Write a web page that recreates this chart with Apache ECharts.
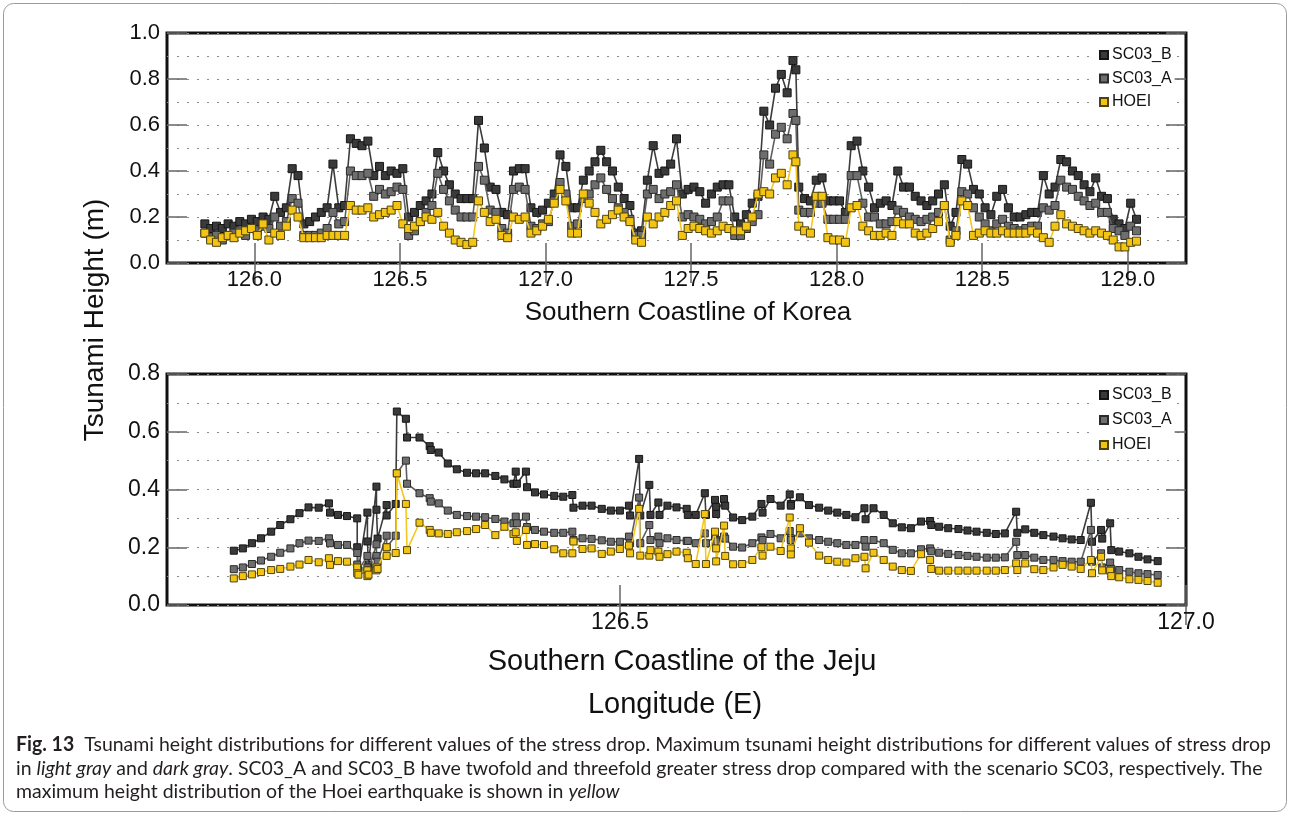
<!DOCTYPE html>
<html>
<head>
<meta charset="utf-8">
<script src="https://cdn.jsdelivr.net/npm/echarts@6/dist/echarts.min.js"></script>
<style>
  html, body { margin: 0; padding: 0; background: #fff; }
  #chart { width: 1290px; height: 816px; }
</style>
</head>
<body>
<div id="chart"></div>
<script>
// Southern coastline of Korea: station longitude (deg E) and maximum tsunami height (m)
const korLon = [125.83,125.85,125.87,125.89,125.91,125.93,125.95,125.97,125.99,126.01,
  126.03,126.05,126.07,126.09,126.11,126.13,126.15,126.17,126.19,126.21,
  126.23,126.25,126.27,126.29,126.31,126.33,126.35,126.37,126.39,126.41,
  126.43,126.45,126.47,126.49,126.51,126.53,126.55,126.57,126.59,126.61,
  126.63,126.65,126.67,126.69,126.71,126.73,126.75,126.77,126.79,126.81,
  126.83,126.85,126.87,126.89,126.91,126.93,126.95,126.97,126.99,127.01,
  127.03,127.05,127.07,127.09,127.11,127.13,127.15,127.17,127.19,127.21,
  127.23,127.25,127.27,127.29,127.31,127.33,127.35,127.37,127.39,127.41,
  127.43,127.45,127.47,127.49,127.51,127.53,127.55,127.57,127.59,127.61,
  127.63,127.65,127.67,127.69,127.71,127.73,127.75,127.77,127.79,127.81,
  127.83,127.85,127.86,
  127.87,127.89,127.91,127.93,127.95,127.97,127.99,128.01,128.03,128.05,
  128.07,128.09,128.11,128.13,128.15,128.17,128.19,128.21,128.23,128.25,
  128.27,128.29,128.31,128.33,128.35,128.37,128.39,128.41,128.43,128.45,
  128.47,128.49,128.51,128.53,128.55,128.57,128.59,128.61,128.63,128.65,
  128.67,128.69,128.71,128.73,128.75,128.77,128.79,128.81,128.83,128.85,
  128.87,128.89,128.91,128.93,128.95,128.97,128.99,129.01,129.03];

const korSC03B = [.17,.15,.16,.15,.17,.16,.18,.17,.19,.18,
  .20,.19,.29,.22,.24,.41,.38,.17,.18,.20,
  .22,.24,.43,.24,.25,.54,.52,.51,.53,.38,
  .42,.38,.40,.39,.41,.20,.22,.25,.27,.30,
  .48,.40,.34,.30,.28,.28,.28,.62,.50,.33,
  .32,.22,.21,.40,.41,.41,.24,.22,.23,.26,
  .30,.47,.42,.24,.24,.36,.40,.44,.49,.44,
  .40,.33,.28,.25,.13,.14,.36,.51,.39,.40,
  .43,.54,.30,.32,.33,.31,.26,.30,.33,.34,
  .34,.20,.17,.21,.26,.29,.66,.60,.76,.82,
  .74,.88,.84,
  .33,.28,.27,.36,.37,.27,.27,.27,.22,.51,
  .53,.40,.33,.24,.26,.27,.25,.40,.33,.33,
  .29,.27,.25,.27,.30,.34,.16,.22,.45,.43,
  .32,.30,.24,.21,.29,.32,.24,.20,.20,.21,
  .22,.22,.38,.30,.33,.45,.44,.40,.38,.34,
  .31,.37,.29,.28,.19,.17,.15,.26,.19];

const korSC03A = [.13,.11,.12,.10,.12,.13,.14,.12,.15,.14,
  .16,.15,.20,.16,.18,.28,.26,.12,.12,.12,
  .13,.15,.22,.17,.18,.40,.38,.38,.39,.29,
  .32,.30,.31,.33,.32,.12,.14,.18,.22,.25,
  .39,.32,.27,.23,.20,.20,.20,.42,.36,.23,
  .22,.15,.13,.32,.33,.32,.16,.15,.17,.18,
  .27,.35,.30,.16,.17,.28,.30,.34,.37,.32,
  .28,.24,.22,.19,.12,.12,.30,.32,.28,.30,
  .31,.34,.20,.21,.20,.19,.17,.18,.20,.27,
  .27,.12,.12,.15,.18,.21,.47,.43,.56,.59,
  .54,.65,.62,
  .23,.22,.22,.26,.26,.19,.19,.19,.19,.38,
  .38,.26,.20,.20,.17,.17,.18,.23,.22,.20,
  .19,.18,.19,.20,.22,.25,.10,.14,.31,.30,
  .24,.20,.17,.14,.17,.19,.16,.15,.14,.15,
  .16,.16,.24,.23,.25,.36,.33,.32,.29,.27,
  .25,.26,.22,.22,.15,.14,.12,.16,.14];

const korHOEI = [.13,.10,.09,.11,.12,.11,.13,.14,.15,.12,
  .17,.10,.13,.12,.16,.23,.20,.11,.11,.11,
  .11,.12,.12,.12,.12,.25,.23,.23,.24,.20,
  .21,.22,.23,.25,.17,.15,.16,.18,.20,.19,
  .22,.16,.13,.10,.09,.08,.09,.27,.22,.18,
  .19,.12,.11,.20,.19,.20,.13,.14,.16,.19,
  .26,.32,.27,.13,.13,.30,.26,.22,.17,.19,
  .21,.23,.20,.18,.10,.09,.20,.17,.20,.22,
  .25,.27,.12,.15,.16,.15,.14,.13,.14,.16,
  .15,.14,.14,.16,.20,.30,.31,.30,.37,.39,
  .34,.47,.44,
  .16,.14,.13,.29,.29,.11,.10,.10,.09,.24,
  .25,.16,.14,.12,.12,.13,.12,.18,.17,.17,
  .13,.12,.13,.15,.18,.25,.09,.12,.27,.25,
  .12,.13,.14,.13,.13,.14,.13,.13,.13,.13,
  .14,.13,.11,.09,.16,.21,.17,.16,.15,.14,
  .13,.14,.13,.12,.10,.07,.07,.09,.095];

// Southern coastline of Jeju island
const jejuLon = [126.159,126.167,126.175,126.183,126.192,126.200,126.209,126.217,126.225,126.234,
  126.243,126.244,126.251,126.259,126.268,126.268,126.269,126.277,126.277,126.278,
  126.285,126.285,126.286,126.294,126.294,126.302,126.303,126.311,126.312,126.323,
  126.332,126.333,126.340,126.348,126.356,126.365,126.373,126.381,126.390,126.398,
  126.406,126.408,126.409,126.417,126.418,126.425,126.433,126.442,126.450,126.458,
  126.459,126.467,126.475,126.484,126.492,126.500,126.508,126.509,126.517,126.518,
  126.526,126.527,126.534,126.535,126.542,126.550,126.559,126.560,126.567,126.575,
  126.576,126.584,126.585,126.585,126.592,126.593,126.600,126.608,126.617,126.625,
  126.626,126.633,126.642,126.650,126.651,126.651,126.659,126.667,126.676,126.684,
  126.692,126.700,126.708,126.716,126.717,126.724,126.733,126.741,126.749,126.757,
  126.766,126.774,126.775,126.782,126.790,126.799,126.807,126.815,126.824,126.832,
  126.840,126.850,126.851,126.858,126.866,126.874,126.883,126.891,126.899,126.907,
  126.916,126.917,126.925,126.926,126.933,126.934,126.941,126.950,126.958,126.966,126.975];

const jejuSC03B = [.188,.196,.214,.231,.254,.277,.297,.318,.338,.337,
  .352,.320,.312,.308,.300,.200,.120,.320,.220,.140,
  .410,.330,.230,.346,.310,.350,.670,.645,.580,.580,
  .550,.537,.528,.490,.470,.458,.456,.456,.447,.435,
  .420,.462,.420,.462,.408,.390,.383,.378,.375,.381,
  .337,.344,.344,.333,.327,.327,.344,.310,.506,.310,
  .416,.312,.355,.312,.344,.338,.333,.312,.312,.387,
  .312,.364,.340,.315,.367,.344,.303,.294,.306,.350,
  .320,.367,.344,.383,.350,.344,.373,.346,.337,.327,
  .320,.312,.304,.335,.297,.335,.312,.283,.269,.266,
  .289,.291,.277,.271,.266,.263,.258,.254,.250,.246,
  .248,.323,.250,.262,.250,.242,.237,.231,.227,.225,
  .354,.219,.260,.230,.283,.190,.185,.179,.167,.158,.152];

const jejuSC03A = [.124,.130,.142,.154,.167,.181,.196,.214,.223,.222,
  .231,.214,.208,.208,.180,.140,.120,.170,.130,.120,
  .210,.170,.150,.240,.200,.240,.456,.500,.420,.387,
  .370,.358,.352,.327,.312,.308,.306,.304,.298,.289,
  .283,.306,.283,.306,.270,.260,.254,.250,.250,.254,
  .225,.231,.229,.224,.219,.219,.237,.214,.372,.214,
  .277,.225,.237,.214,.231,.225,.222,.222,.214,.248,
  .214,.237,.225,.220,.237,.230,.202,.199,.214,.234,
  .225,.246,.231,.256,.231,.225,.248,.231,.225,.219,
  .214,.208,.208,.225,.202,.225,.214,.191,.179,.179,
  .193,.196,.186,.181,.177,.173,.170,.167,.164,.164,
  .165,.219,.173,.173,.164,.156,.156,.152,.150,.150,
  .260,.150,.179,.130,.147,.125,.121,.115,.110,.107,.104];

const jejuHOEI = [.092,.100,.106,.114,.121,.125,.133,.140,.156,.148,
  .162,.139,.152,.150,.130,.110,.105,.120,.100,.105,
  .130,.120,.125,.200,.170,.180,.456,.350,.190,.285,
  .260,.250,.248,.246,.252,.256,.263,.277,.242,.271,
  .246,.252,.222,.260,.208,.211,.208,.193,.179,.179,
  .220,.194,.196,.177,.185,.194,.206,.179,.333,.171,
  .171,.190,.185,.167,.176,.185,.181,.162,.142,.315,
  .142,.254,.196,.151,.275,.170,.141,.142,.156,.200,
  .171,.202,.187,.303,.196,.175,.266,.216,.171,.156,
  .150,.147,.162,.167,.127,.181,.156,.133,.121,.118,
  .176,.156,.125,.119,.119,.119,.119,.119,.119,.119,
  .121,.144,.121,.144,.124,.121,.130,.139,.133,.125,
  .156,.110,.167,.120,.119,.100,.096,.089,.087,.083,.077];

// Axis tick values
const korTicks = [126.0, 126.5, 127.0, 127.5, 128.0, 128.5, 129.0];
const jejuTicks = [126.5, 127.0];

const seriesNames = ['SC03_B', 'SC03_A', 'HOEI'];

// Marker fill, marker edge and connecting line colour of each scenario
const look = {
  SC03_B: { fill: '#3a3a3a', edge: '#151515', line: '#3c3c3c' },
  SC03_A: { fill: '#6e6e6e', edge: '#2a2a2a', line: '#5e5e5e' },
  HOEI:   { fill: '#f3c414', edge: '#4f4310', line: '#f5c71d' }
};

const FONT = 'Liberation Sans, Arial, Helvetica, sans-serif';
const dotted = { type: [2, 8], color: '#8c8c8c', width: 1.2 };
const tickStyle = { color: '#666', width: 1.5 };
const fmt = v => Number(v).toFixed(1);

const pairs = (lon, vals) => lon.map((x, i) => [x, vals[i]]);

const panels = [
  { lon: korLon, vals: [korSC03B, korSC03A, korHOEI], mark: 8 },
  { lon: jejuLon, vals: [jejuSC03B, jejuSC03A, jejuHOEI], mark: 7 }
];

const series = [];
panels.forEach((p, pi) => {
  seriesNames.forEach((name, si) => {
    const c = look[name];
    series.push({
      name: name,
      type: 'line',
      xAxisIndex: pi * 2,
      yAxisIndex: pi * 2,
      data: pairs(p.lon, p.vals[si]),
      symbol: 'rect',
      symbolSize: p.mark,
      showSymbol: true,
      lineStyle: { color: c.line, width: 1.6 },
      itemStyle: { color: c.fill, borderColor: c.edge, borderWidth: 1 },
      emphasis: { disabled: true },
      z: 3 + si
    });
  });
});

function xAxes(grid, min, max, ticks, fontSize) {
  const common = {
    gridIndex: grid, type: 'value', min: min, max: max,
    axisLine: { show: false },
    splitLine: { show: false },
    axisTick: { show: true, inside: true, length: 20, customValues: ticks, lineStyle: tickStyle }
  };
  return [
    Object.assign({}, common, {
      position: 'bottom',
      axisLabel: { customValues: ticks, formatter: fmt, fontSize: fontSize, margin: 6,
                   color: '#111', fontFamily: FONT }
    }),
    Object.assign({}, common, { position: 'top', axisLabel: { show: false } })
  ];
}

function yAxes(grid, max, fontSize) {
  const common = {
    gridIndex: grid, type: 'value', min: 0, max: max, interval: 0.2,
    axisLine: { show: false },
    axisTick: { show: true, inside: true, length: 20, lineStyle: tickStyle }
  };
  return [
    Object.assign({}, common, {
      position: 'left',
      axisLabel: { formatter: fmt, fontSize: fontSize, margin: 7, color: '#111', fontFamily: FONT },
      splitLine: { show: true, lineStyle: dotted },
      minorTick: { show: false, splitNumber: 2 },
      minorSplitLine: { show: true, lineStyle: dotted }
    }),
    Object.assign({}, common, {
      position: 'right', axisLabel: { show: false }, splitLine: { show: false }
    })
  ];
}

function legend(top, gap) {
  return {
    data: seriesNames,
    orient: 'vertical',
    left: 1096, top: top,
    icon: 'rect', itemWidth: 8, itemHeight: 8, itemGap: gap,
    padding: [2, 3, 2, 3],
    backgroundColor: '#fff',
    selectedMode: false,
    textStyle: { fontSize: 16, fontFamily: FONT, color: '#111', padding: [0, 0, 0, -1] }
  };
}

// Caption: measure the first line so the three lines share one width
const CAP_FONT = 'Lato, "Open Sans", sans-serif';
const CAP_SIZE = 20;
const capLine1a = 'Fig. 13';
const capLine1b = '  Tsunami height distributions for different values of the stress drop. Maximum tsunami height distributions for different values of stress drop';
const mctx = document.createElement('canvas').getContext('2d');
mctx.font = 'bold ' + CAP_SIZE + 'px ' + CAP_FONT;
let capW = mctx.measureText(capLine1a).width;
mctx.font = CAP_SIZE + 'px ' + CAP_FONT;
capW += mctx.measureText(capLine1b).width;
const capScale = 1255 / capW;

const capRich = {
  b: { fontFamily: CAP_FONT, fontSize: CAP_SIZE, fontWeight: 'bold', fill: '#231f20' },
  r: { fontFamily: CAP_FONT, fontSize: CAP_SIZE, fill: '#231f20' },
  i: { fontFamily: CAP_FONT, fontSize: CAP_SIZE, fontStyle: 'italic', fill: '#231f20' }
};
function capText(y, text) {
  return {
    type: 'text', x: 16, y: y, scaleX: capScale,
    style: { text: text, rich: capRich, verticalAlign: 'middle', align: 'left' }
  };
}
function label(x, y, text, size, rotation) {
  return {
    type: 'text', x: x, y: y, rotation: rotation || 0,
    style: { text: text, fontFamily: FONT, fontSize: size, fill: '#111',
             align: 'center', verticalAlign: 'middle' }
  };
}

const option = {
  animation: false,
  backgroundColor: '#fff',
  grid: [
    { left: 167, top: 33, width: 1019, height: 230, show: true,
      borderColor: '#111', borderWidth: 3, backgroundColor: 'transparent' },
    { left: 167, top: 374, width: 1019, height: 231, show: true,
      borderColor: '#111', borderWidth: 3, backgroundColor: 'transparent' }
  ],
  xAxis: [].concat(
    xAxes(0, 125.7, 129.2, korTicks, 22),
    xAxes(1, 126.1, 127.0, jejuTicks, 23)
  ),
  yAxis: [].concat(
    yAxes(0, 1.0, 22),
    yAxes(1, 0.8, 23)
  ),
  legend: [legend(45, 7.5), legend(385, 9)],
  series: series,
  graphic: [
    { type: 'rect', shape: { x: 3.5, y: 3.5, width: 1283, height: 808, r: 10 },
      style: { fill: 'none', stroke: '#9a9a9a', lineWidth: 1 } },
    label(688, 313, 'Southern Coastline of Korea', 26),
    label(682, 662, 'Southern Coastline of the Jeju', 29),
    label(675, 705, 'Longitude (E)', 29),
    label(95, 320, 'Tsunami Height (m)', 28, Math.PI / 2),
    capText(745, '{b|' + capLine1a + '}{r|' + capLine1b + '}'),
    capText(768.5, '{r|in }{i|light gray}{r| and }{i|dark gray}{r|. SC03_A and SC03_B have twofold and threefold greater stress drop compared with the scenario SC03, respectively. The}'),
    capText(792, '{r|maximum height distribution of the Hoei earthquake is shown in }{i|yellow}')
  ]
};

const chart = echarts.init(document.getElementById('chart'), null, { renderer: 'canvas' });
chart.setOption(option);
</script>
</body>
</html>
